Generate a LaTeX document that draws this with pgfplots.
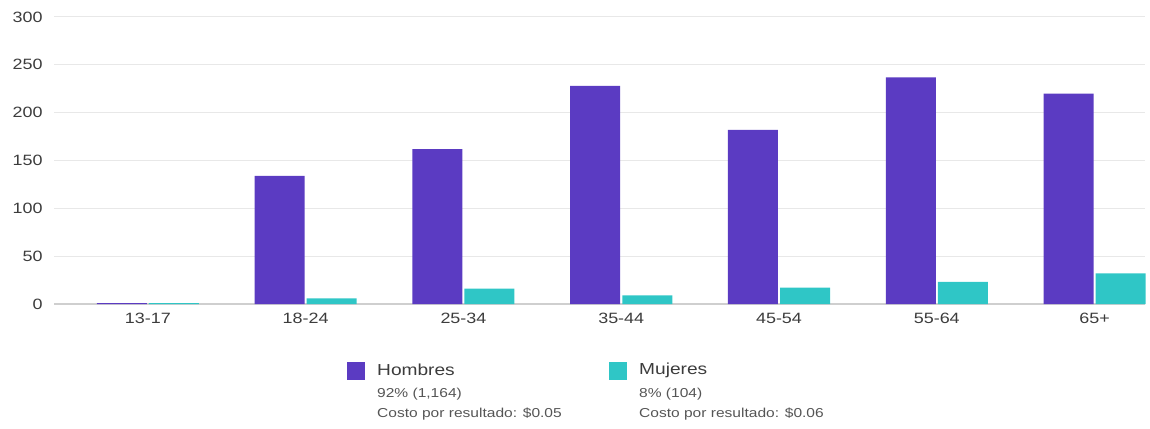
\documentclass[border=0pt]{standalone}
\usepackage{fontspec}
\setmainfont{Liberation Sans}[FakeStretch=1.2]
\usepackage{pgfplots}
\pgfplotsset{compat=1.18}
\definecolor{hom}{HTML}{5B3BC2}
\definecolor{muj}{HTML}{2FC6C6}
\definecolor{gridc}{HTML}{E8E8E8}
\definecolor{zeroc}{HTML}{CFCFCF}
\definecolor{txt}{HTML}{3C3C3C}
\definecolor{txtl}{HTML}{555555}

\pgfplotstableread{
x hombres mujeres
0 1   1
1 134 6
2 162 16
3 228 9
4 182 17
5 237 23
6 220 32
}\datatable

\begin{document}
\begin{tikzpicture}[x=1bp,y=1bp]
\useasboundingbox (0,0) rectangle (1150,428);
\begin{axis}[
  at={(54bp,124bp)}, anchor=south west,
  scale only axis, width=1091bp, height=287bp,
  xmin=-0.595, xmax=6.32, ymin=0, ymax=300,
  enlargelimits=false,
  clip=false,
  axis line style={draw=none},
  major tick length=0pt,
  ytick={50,100,...,300},
  extra y ticks={0},
  extra y tick style={grid style={zeroc, line width=1.2bp}},
  xtick={0,...,6},
  xticklabels={13-17,18-24,25-34,35-44,45-54,55-64,65+},
  ymajorgrids,
  grid style={gridc, line width=1bp},
  tick label style={font=\fontsize{15}{18}\selectfont, text=txt},
  /pgf/number format/assume math mode=true,
  yticklabel style={anchor=east, xshift=-8bp},
  xticklabel style={anchor=center, yshift=-14bp},
  ybar,
]
\addplot[fill=hom, draw=none, bar width=0.317, bar shift=-0.165] table[x=x, y=hombres] {\datatable};
\addplot[fill=muj, draw=none, bar width=0.317, bar shift=0.165] table[x=x, y=mujeres] {\datatable};
\end{axis}
% legend
\fill[hom] (347,48) rectangle (365,66);
\node[anchor=west, inner sep=0, text=txt, font=\fontsize{16}{19}\selectfont] at (377,58) {Hombres};
\node[anchor=west, inner sep=0, text=txtl, font=\fontsize{13}{15}\selectfont] at (377,34) {92\% (1,164)};
\node[anchor=west, inner sep=0, text=txtl, font=\fontsize{13}{15}\selectfont] at (377,14) {Costo por resultado: \$0.05};
\fill[muj] (609,48) rectangle (627,66);
\node[anchor=west, inner sep=0, text=txt, font=\fontsize{16}{19}\selectfont] at (639,58) {Mujeres};
\node[anchor=west, inner sep=0, text=txtl, font=\fontsize{13}{15}\selectfont] at (639,34) {8\% (104)};
\node[anchor=west, inner sep=0, text=txtl, font=\fontsize{13}{15}\selectfont] at (639,14) {Costo por resultado: \$0.06};
\end{tikzpicture}
\end{document}
